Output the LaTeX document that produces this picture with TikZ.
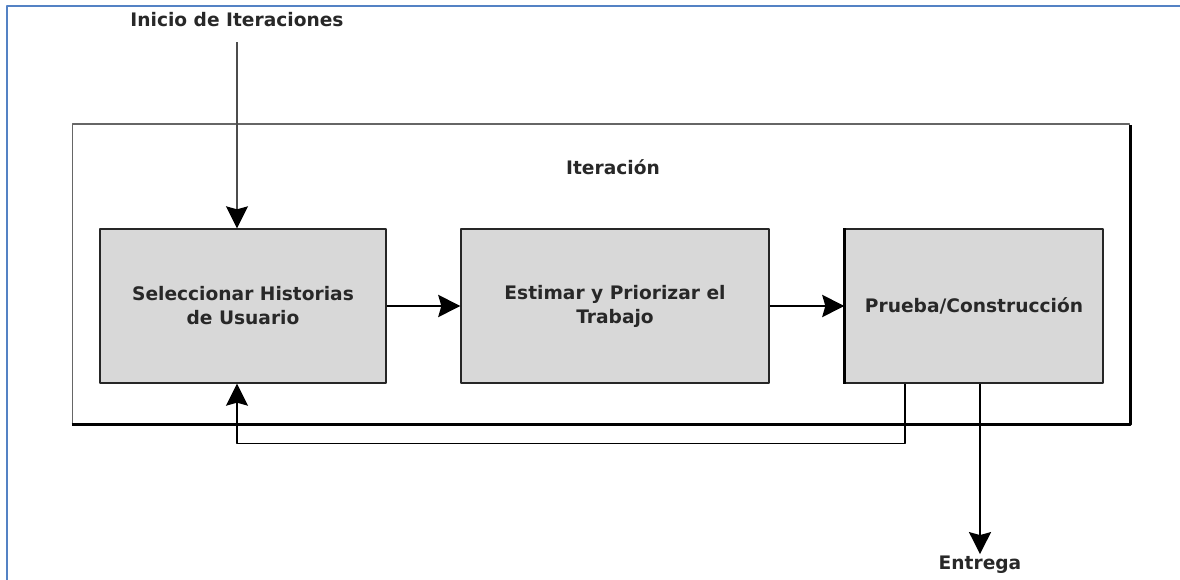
\documentclass[tikz,border=0pt]{standalone}
\usepackage{fontspec}
\setmainfont{DejaVu Sans}
\usetikzlibrary{arrows.meta,positioning}
\definecolor{marco}{RGB}{84,130,196}
\definecolor{relleno}{RGB}{216,216,216}
\definecolor{texto}{RGB}{40,40,40}
\tikzset{
	caja/.style={rectangle,draw=black!85,fill=relleno,line width=0.8pt,inner sep=0pt,
		minimum height=3.08cm,align=center,text=texto},
	etiqueta/.style={text=texto,inner sep=1pt},
	flecha/.style={-{Stealth[length=4.4mm,width=4.4mm,inset=0.6mm,black]}}
}
\begin{document}
\begin{tikzpicture}[x=0.02cm,y=-0.02cm,line join=round,
	font=\fontsize{10.6}{13.7}\selectfont\bfseries]
	\useasboundingbox (0,0) rectangle (1180,580);
	\draw[marco,line width=1.1pt] (7,580)--(7,6)--(1180,6);
	% marco de la iteracion
	\path (601,274) node[rectangle,draw=black!60,line width=0.6pt,minimum width=21.16cm,
	minimum height=6cm,inner sep=0pt](iter){};
	\draw[line width=1.7pt] (iter.south west)--(iter.south east)--([yshift=-0.6pt]iter.north east);
	\path (613,167) node[etiqueta](titulo){Iteración};
	% cajas
	\path (243,306) node[caja,minimum width=5.72cm](sel){Seleccionar Historias\\de Usuario}
	(615,306) node[caja,minimum width=6.16cm](est){Estimar y Priorizar el\\Trabajo}
	(974,306) node[caja,minimum width=5.16cm](prueba){Prueba/Construcción};
	\draw[line width=1.8pt] (prueba.south west)--(prueba.north west);
	\path (237,20) node[etiqueta](inicio){Inicio de Iteraciones}
	(980,565) node[etiqueta](entrega){Entrega};
	% flechas
	\draw[flecha,black!70,line width=0.7pt] ([yshift=-2.6mm]inicio.south)--(inicio.south|-sel.north);
	\draw[flecha,line width=1.6pt] (sel.east)--(est.west);
	\draw[flecha,line width=1.6pt] (est.east)--(prueba.west);
	\draw[flecha,line width=0.9pt] ([xshift=-1.38cm]prueba.south)--++(0,60)-|(inicio.south|-sel.south);
	\draw[flecha,line width=1.2pt] (prueba.south-|entrega.north)--(entrega.north);
\end{tikzpicture}
\end{document}
